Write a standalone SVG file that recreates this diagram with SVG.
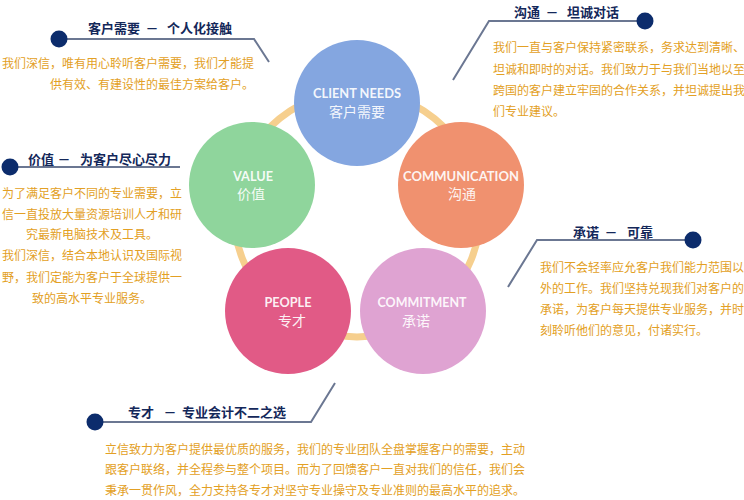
<svg xmlns="http://www.w3.org/2000/svg" width="744" height="500" viewBox="0 0 744 500">
<style>
.ring{fill:none;stroke:#f6cf8e;stroke-width:7}
.lead{fill:none;stroke:#6b7792;stroke-width:2}
.dot{fill:#0c2c6c}
.title{font-family:"Noto Sans CJK SC","Noto Sans",sans-serif;font-size:13px;font-weight:bold;fill:#14285a}
.dash{text-anchor:middle}
.body{font-family:"Noto Sans CJK SC","Noto Sans",sans-serif;font-size:12px;fill:#e3a024}
.en{font-family:Lato,"Open Sans",sans-serif;font-size:12.5px;font-weight:bold;fill:#ffffff;fill-opacity:0.92;text-anchor:middle}
.zh{font-family:"Noto Sans CJK SC",sans-serif;font-size:14px;fill:#ffffff;fill-opacity:0.92;text-anchor:middle}
</style>
<rect width="744" height="500" fill="#ffffff"/>
<g id="ring"><circle class="ring" cx="357" cy="214" r="123"/></g>
<g id="client-needs">
<circle cx="357" cy="103" r="63" fill="#84a6e0"/>
<text class="en" x="357" y="98" textLength="88" lengthAdjust="spacingAndGlyphs">CLIENT NEEDS</text>
<text class="zh" x="357" y="117">客户需要</text>
</g>
<g id="communication">
<circle cx="461" cy="185" r="63" fill="#f0916f"/>
<text class="en" x="461" y="181" textLength="116" lengthAdjust="spacingAndGlyphs">COMMUNICATION</text>
<text class="zh" x="462" y="199">沟通</text>
</g>
<g id="commitment">
<circle cx="423" cy="311" r="63" fill="#dfa3d2"/>
<text class="en" x="422" y="307" textLength="89" lengthAdjust="spacingAndGlyphs">COMMITMENT</text>
<text class="zh" x="416" y="326">承诺</text>
</g>
<g id="people">
<circle cx="288" cy="311" r="63" fill="#e15a86"/>
<text class="en" x="288" y="307" textLength="47" lengthAdjust="spacingAndGlyphs">PEOPLE</text>
<text class="zh" x="292" y="326">专才</text>
</g>
<g id="value">
<circle cx="252" cy="185" r="63" fill="#8fd59c"/>
<text class="en" x="253" y="181" textLength="40" lengthAdjust="spacingAndGlyphs">VALUE</text>
<text class="zh" x="251" y="199">价值</text>
</g>
<g id="connectors">
<polyline class="lead" points="59,39 254,39 269,62"/>
<polyline class="lead" points="645,21 489,21 453,80"/>
<polyline class="lead" points="10,167 180,167"/>
<polyline class="lead" points="693,240 537,240 508,287"/>
<polyline class="lead" points="95,422 311,422 335,383"/>
</g>
<g id="note-client">
<circle class="dot" cx="59" cy="39" r="8.5"/>
<text class="title" x="88" y="33">客户需要</text>
<text class="title dash" x="152" y="33">－</text>
<text class="title" x="167" y="33">个人化接触</text>
<text class="body" text-anchor="end" x="254" y="68">我们深信，唯有用心聆听客户需要，我们才能提</text>
<text class="body" text-anchor="end" x="254" y="89">供有效、有建设性的最佳方案给客户。</text>
</g>
<g id="note-communication">
<circle class="dot" cx="645" cy="21" r="8.5"/>
<text class="title" x="514" y="17">沟通</text>
<text class="title dash" x="552" y="17">－</text>
<text class="title" x="567" y="17">坦诚对话</text>
<text class="body" x="493" y="52">我们一直与客户保持紧密联系，务求达到清晰、</text>
<text class="body" x="493" y="74">坦诚和即时的对话。我们致力于与我们当地以至</text>
<text class="body" x="493" y="95">跨国的客户建立牢固的合作关系，并坦诚提出我</text>
<text class="body" x="493" y="116">们专业建议。</text>
</g>
<g id="note-value">
<circle class="dot" cx="10" cy="167" r="8.5"/>
<text class="title" x="28" y="164">价值</text>
<text class="title dash" x="64" y="164">－</text>
<text class="title" x="80" y="164">为客户尽心尽力</text>
<g text-anchor="middle">
<text class="body" x="92" y="198">为了满足客户不同的专业需要，立</text>
<text class="body" x="92" y="219">信一直投放大量资源培训人才和研</text>
<text class="body" x="92" y="239">究最新电脑技术及工具。</text>
<text class="body" x="92" y="260">我们深信，结合本地认识及国际视</text>
<text class="body" x="92" y="282">野，我们定能为客户于全球提供一</text>
<text class="body" x="92" y="303">致的高水平专业服务。</text>
</g>
</g>
<g id="note-commitment">
<circle class="dot" cx="693" cy="240" r="8.5"/>
<text class="title" x="573" y="237">承诺</text>
<text class="title dash" x="611" y="237">－</text>
<text class="title" x="627" y="237">可靠</text>
<text class="body" x="540" y="272">我们不会轻率应允客户我们能力范围以</text>
<text class="body" x="540" y="293">外的工作。我们坚持兑现我们对客户的</text>
<text class="body" x="540" y="314">承诺，为客户每天提供专业服务，并时</text>
<text class="body" x="540" y="335">刻聆听他们的意见，付诸实行。</text>
</g>
<g id="note-people">
<circle class="dot" cx="95" cy="422" r="8.5"/>
<text class="title" x="128" y="417">专才</text>
<text class="title dash" x="170" y="417">－</text>
<text class="title" x="182" y="417">专业会计不二之选</text>
<text class="body" x="105" y="454">立信致力为客户提供最优质的服务，我们的专业团队全盘掌握客户的需要，主动</text>
<text class="body" x="105" y="474">跟客户联络，并全程参与整个项目。而为了回馈客户一直对我们的信任，我们会</text>
<text class="body" x="105" y="495">秉承一贯作风，全力支持各专才对坚守专业操守及专业准则的最高水平的追求。</text>
</g>
</svg>
